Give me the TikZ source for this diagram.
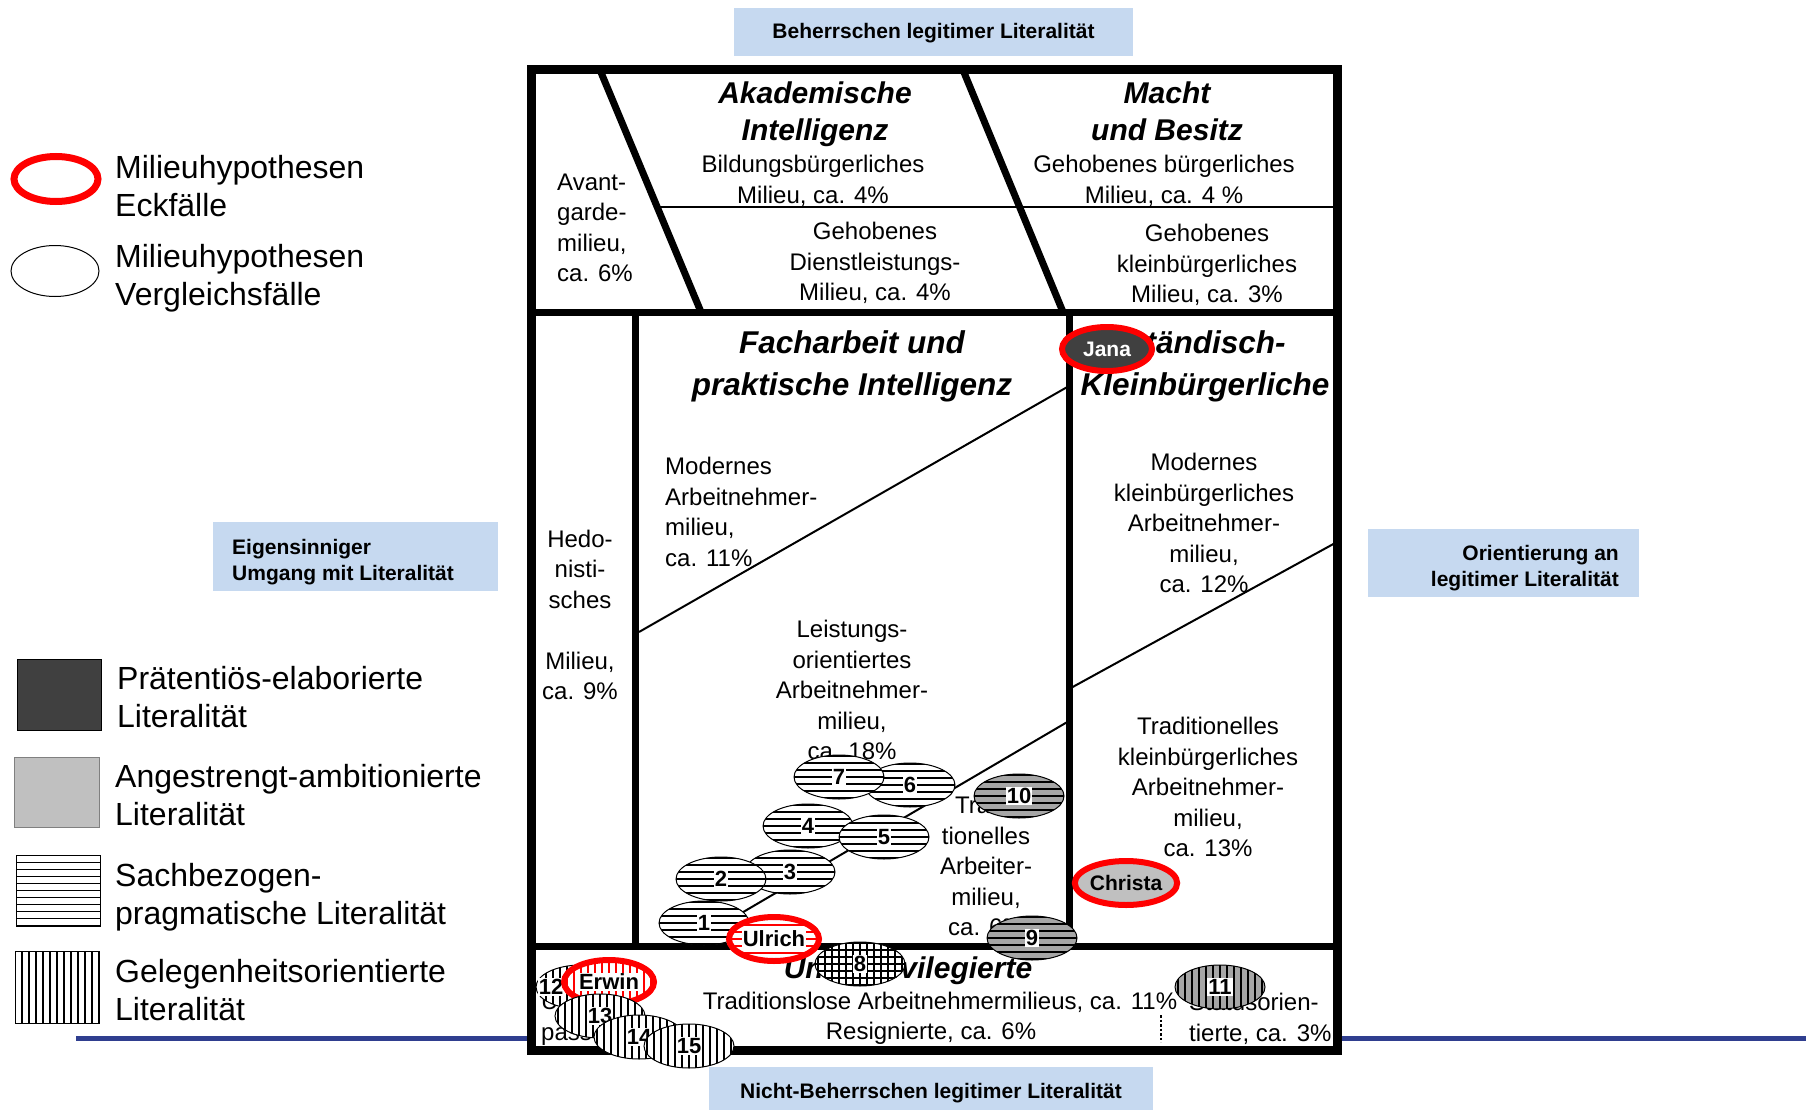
\documentclass[tikz,border=0pt]{standalone}
\usepackage{fontspec}
\setmainfont{Liberation Sans}
\usepackage{xcolor}
\usepackage{tikz}
\usetikzlibrary{shapes.geometric}
\definecolor{lblue}{HTML}{C6D9F0}
\definecolor{dblue}{HTML}{2F3E8F}
\definecolor{dgray}{HTML}{404040}
\definecolor{lgray}{HTML}{C0C0C0}
\definecolor{mgray}{HTML}{A6A6A6}
\definecolor{eckrot}{HTML}{FF0000}

\begin{document}
\begin{tikzpicture}
            [x=1pt, y=-1pt,
             txt/.style = {inner sep=0, align=center, font=\fontsize{24}{30.5}\selectfont},
             titel/.style = {inner sep=0, align=center, font=\fontsize{30}{37}\selectfont\bfseries\itshape},
             grosstitel/.style = {titel, font=\fontsize{31.5}{42}\selectfont\bfseries\itshape},
             blau/.style = {inner sep=0, font=\fontsize{21}{26}\selectfont\bfseries},
             legtxt/.style = {anchor=west, inner sep=0, align=left, font=\fontsize{32}{38}\selectfont},
             dick/.style = {line width=7pt},
             duenn/.style = {line width=2pt},
             fall/.style = {ellipse, draw, fill=white, minimum width=90pt, minimum height=44pt, inner sep=0, line width=1pt},
             eck/.style = {fall, draw=eckrot, line width=6pt, font=\fontsize{21}{24}\selectfont\bfseries},
             nrlab/.style = {fill=white, inner sep=1.2pt, font=\fontsize{22}{24}\selectfont\bfseries},
             nr/.style = {label={[nrlab]center:#1}},
             hstr/.style = {path picture={\foreach \k in {-42,-35,...,42} \draw[line width=1.7pt] ([yshift=\k pt]path picture bounding box.west) -- ([yshift=\k pt]path picture bounding box.east);}},
             vstr/.style = {path picture={\foreach \k in {-49,-42,...,49} \draw[line width=1.7pt] ([xshift=\k pt]path picture bounding box.north) -- ([xshift=\k pt]path picture bounding box.south);}},
             gitter/.style = {path picture={\foreach \k in {-42,-35,...,42} \draw[line width=1.6pt] ([yshift=\k pt]path picture bounding box.west) -- ([yshift=\k pt]path picture bounding box.east);
                                            \foreach \k in {-49,-42,...,49} \draw[line width=1.6pt] ([xshift=\k pt]path picture bounding box.north) -- ([xshift=\k pt]path picture bounding box.south);}}]

            \useasboundingbox (0,0) rectangle (1806,1110);

            \fill[lblue] (734,8) rectangle (1133,56);
            \fill[lblue] (709,1067) rectangle (1153,1110);
            \fill[lblue] (213,522) rectangle (498,591);
            \fill[lblue] (1368,529) rectangle (1639,597);
            \node[blau] (oben) at (933.5,33) {Beherrschen legitimer Literalität};
            \node[blau] (unten) at (931,1093) {Nicht-Beherrschen legitimer Literalität};
            \node[blau, anchor=west, align=left] (links) at (232,562.5) {Eigensinniger\\Umgang mit Literalität};
            \node[blau, anchor=east, align=right] (rechts) at (1619,568) {Orientierung an\\legitimer Literalität};

            \draw[dblue, line width=5pt] (76,1038) -- (1806,1038);
            \draw[line width=9pt, fill=white] (531,70) rectangle (1337,1050);
            \draw[dick] (531,312) -- (1337,312);
            \draw[dick] (531,946) -- (1337,946);
            \draw[dick] (635,312) -- (635,946);
            \draw[dick] (1069,312) -- (1069,946);
            \draw[dick] (600,70) -- (701,312);
            \draw[dick] (963,70) -- (1063,312);
            \draw[duenn] (657,207) -- (1337,207);
            \draw[duenn] (639,632) -- (1069,386);
            \draw[duenn] (1069,689) -- (1337,542);
            \draw[duenn] (1069,721) -- (704,935);
            \draw[dotted, line width=2.5pt] (1161,1015) -- (1161,1042);

            \node[txt, anchor=west, align=left] (avant) at (557,228) {Avant-\\garde-\\milieu,\\ca. 6\%};
            \node[titel] (akad) at (815,114) {Akademische\\Intelligenz};
            \node[txt] (bildung) at (813,181) {Bildungsbürgerliches\\Milieu, ca. 4\%};
            \node[titel] (macht) at (1167,111) {Macht\\und Besitz};
            \node[txt] (gehbuerg) at (1164,181) {Gehobenes bürgerliches\\Milieu, ca. 4 \%};
            \node[txt] (gehdienst) at (875,263) {Gehobenes\\Dienstleistungs-\\Milieu, ca. 4\%};
            \node[txt] (gehklein) at (1207,265) {Gehobenes\\kleinbürgerliches\\Milieu, ca. 3\%};

            \node[txt] (hedo) at (580,615) {Hedo-\\nisti-\\sches\\[30.5pt]Milieu,\\ca. 9\%};
            \node[grosstitel] (fach) at (852,366) {Facharbeit und\\praktische Intelligenz};
            \node[grosstitel] (staend) at (1205,366) {Ständisch-\\Kleinbürgerliche};
            \node[txt, anchor=west, align=left] (modarb) at (665,512) {Modernes\\Arbeitnehmer-\\milieu,\\ca. 11\%};
            \node[txt] (modklein) at (1204,523) {Modernes\\kleinbürgerliches\\Arbeitnehmer-\\milieu,\\ca. 12\%};
            \node[txt] (leistung) at (852,690) {Leistungs-\\orientiertes\\Arbeitnehmer-\\milieu,\\ca. 18\%};
            \node[txt] (tradklein) at (1208,787) {Traditionelles\\kleinbürgerliches\\Arbeitnehmer-\\milieu,\\ca. 13\%};
            \node[txt] (tradarb) at (986,866) {Tradi-\\tionelles\\Arbeiter-\\milieu,\\ca. 6\%};

            \node[titel] (unterpriv) at (908,971) {Unterprivilegierte};
            \node[txt] (traditionslos) at (940,1002) {Traditionslose Arbeitnehmermilieus, ca. 11\%};
            \node[txt] (resig) at (931,1033) {Resignierte, ca. 6\%};
            \node[txt, anchor=west, align=left] (status) at (1189,1019) {Statusorien-\\tierte, ca. 3\%};
            \node[txt, anchor=west, align=left] (pass) at (541,1019) {U\\pass};

            \node[fall, hstr, nr=6] (e6) at (910,785) {};
            \node[fall, hstr, nr=7] (e7) at (839,777) {};
            \node[fall, hstr, nr=4] (e4) at (808,826) {};
            \node[fall, hstr, nr=5] (e5) at (884,837) {};
            \node[fall, hstr, nr=3] (e3) at (790,872) {};
            \node[fall, hstr, nr=2] (e2) at (721,879) {};
            \node[fall, hstr, nr=1] (e1) at (704,923) {};
            \node[fall, fill=mgray, hstr, nr=10] (e10) at (1019,796) {};
            \node[fall, fill=mgray, hstr, nr=9] (e9) at (1032,938) {};
            \node[fall, gitter, nr=8] (e8) at (860,964) {};
            \node[eck, hstr, nr=Ulrich] (ulrich) at (774,939) {};
            \node[fall, fill=mgray, vstr, nr=11] (e11) at (1220,987) {};

            \node[fall, vstr, label={[nrlab, xshift=-30pt]center:12}] (e12) at (581,987) {};
            \node[eck, vstr, nr=Erwin] (erwin) at (609,982) {};
            \node[fall, vstr, nr=13] (e13) at (600,1016) {};
            \node[fall, vstr, nr=14] (e14) at (639,1037) {};
            \node[fall, vstr, nr=15] (e15) at (689,1046) {};

            \node[eck, fill=dgray, text=white] (jana) at (1107,349) {Jana};
            \node[eck, fill=lgray] (christa) at (1126,883) {Christa};

            \node[eck, minimum width=84pt, minimum height=45pt, line width=7pt] (legeck) at (56,179) {};
            \node[fall, minimum width=88pt, minimum height=51pt] (legvgl) at (55,271) {};
            \node[draw, fill=dgray, minimum width=84pt, minimum height=71pt, inner sep=0] (legdunkel) at (59,694.5) {};
            \node[draw=gray, fill=lgray, minimum width=85pt, minimum height=70pt, inner sep=0] (leghell) at (56.5,792) {};
            \node[draw, hstr, minimum width=84pt, minimum height=71pt, inner sep=0] (legsach) at (58,890.5) {};
            \node[draw, vstr, minimum width=84pt, minimum height=72pt, inner sep=0] (leggel) at (57,987) {};

            \node[legtxt] (teck) at (115,186) {Milieuhypothesen\\Eckfälle};
            \node[legtxt] (tvgl) at (115,278) {Milieuhypothesen\\Vergleichsfälle};
            \node[legtxt] (tdunkel) at (117,697) {Prätentiös-elaborierte\\Literalität};
            \node[legtxt] (thell) at (115,795) {Angestrengt-ambitionierte\\Literalität};
            \node[legtxt] (tsach) at (115,897) {Sachbezogen-\\pragmatische Literalität};
            \node[legtxt] (tgel) at (115,990) {Gelegenheitsorientierte\\Literalität};

        \end{tikzpicture}
\end{document}
